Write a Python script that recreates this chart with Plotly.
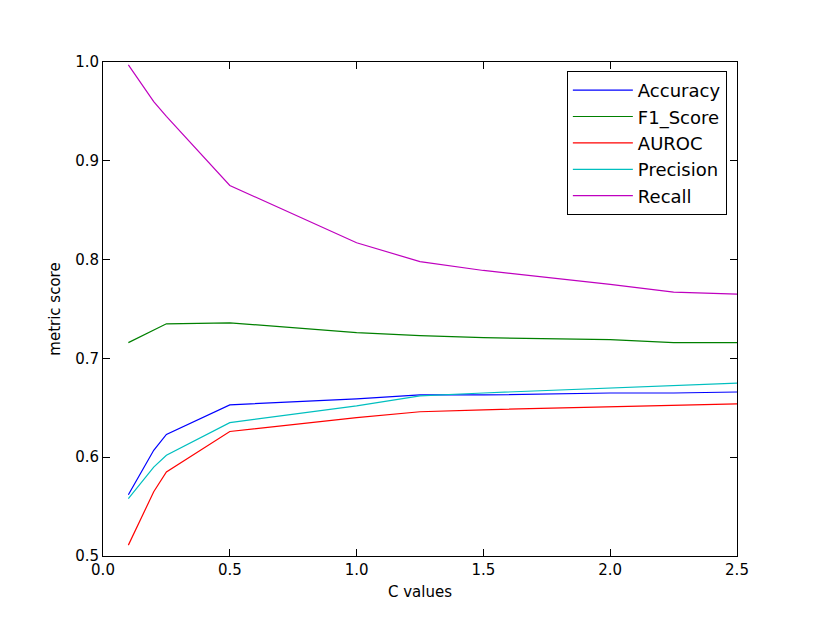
import plotly.graph_objects as go

c_values = [0.1, 0.2, 0.25, 0.5, 1.0, 1.25, 1.5, 2.0, 2.25, 2.5]
accuracy = [0.562, 0.607, 0.623, 0.653, 0.659, 0.663, 0.663, 0.665, 0.665, 0.666]
f1_score = [0.716, 0.729, 0.735, 0.736, 0.726, 0.723, 0.721, 0.719, 0.716, 0.716]
auroc = [0.511, 0.565, 0.585, 0.626, 0.640, 0.646, 0.648, 0.651, 0.652, 0.654]
precision = [0.558, 0.590, 0.602, 0.635, 0.652, 0.662, 0.665, 0.670, 0.673, 0.675]
recall = [0.997, 0.960, 0.945, 0.875, 0.817, 0.798, 0.789, 0.775, 0.767, 0.765]

series = [("Accuracy", accuracy, "#0000ff"), ("F1_Score", f1_score, "#008000"),
          ("AUROC", auroc, "#ff0000"), ("Precision", precision, "#00bfbf"),
          ("Recall", recall, "#bf00bf")]

fig = go.Figure()
for name, vals, col in series:
    fig.add_trace(go.Scatter(x=c_values, y=vals, mode="lines", name=name,
                             line=dict(color=col, width=1.2)))

axis = dict(showgrid=False, zeroline=False, showline=True, linecolor="black",
            linewidth=1, mirror="ticks", ticks="inside", ticklen=7,
            tickcolor="black", tickfont=dict(size=15))
fig.update_layout(
    width=817, height=617, plot_bgcolor="white", paper_bgcolor="white",
    margin=dict(l=95, r=88, t=54, b=69),
    font=dict(family="DejaVu Sans", color="black"),
    xaxis=dict(axis, range=[0, 2.5], dtick=0.5, tickformat=".1f",
               title=dict(text="C values", font=dict(size=15), standoff=8)),
    yaxis=dict(axis, range=[0.5, 1.0], dtick=0.1, tickformat=".1f",
               title=dict(text="metric score", font=dict(size=15), standoff=10)),
    legend=dict(x=0.984, y=0.982, xanchor="right", yanchor="top",
                bordercolor="black", borderwidth=1, font=dict(size=18),
                tracegroupgap=0, itemwidth=60),
)
fig.write_html("out.html")
